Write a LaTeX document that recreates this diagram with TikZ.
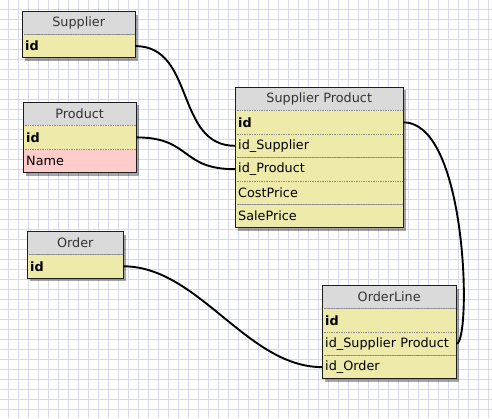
\documentclass[tikz,border=0pt]{standalone}
\usepackage{fontspec}
\setmainfont{DejaVu Sans}
\newfontfamily\tabfam{DejaVu Sans}
\definecolor{gridc}{RGB}{216,216,236}
\definecolor{hdrc}{RGB}{218,218,218}
\definecolor{fldc}{RGB}{238,234,170}
\definecolor{pinkc}{RGB}{255,204,204}
\definecolor{borderc}{RGB}{30,30,30}
\pgfdeclarelayer{gridlayer}
\pgfdeclarelayer{shadowlayer}
\pgfsetlayers{gridlayer,shadowlayer,main}
\newcommand{\tabfont}{\tabfam\fontsize{12.8}{15}\selectfont}
\tikzset{
  cell/.style={minimum height=23pt, inner xsep=3pt, inner ysep=0pt, anchor=north west, font=\tabfont},
  hdr/.style={cell, fill=hdrc, align=center, text=black!80},
  fld/.style={cell, fill=fldc, align=left, text=black},
  pk/.style={fld, font=\tabfont\bfseries},
  pinkfld/.style={cell, fill=pinkc, align=left, text=black},
  sep/.style={draw=black!45, densely dotted, line width=0.7pt},
  frame/.style={draw=borderc, line width=1pt},
  shade/.style={fill=black, opacity=0.35},
  conn/.style={draw=black, line width=1.9pt},
  gridline/.style={draw=gridc, line width=0.9pt}
}
\begin{document}
\begin{tikzpicture}[x=1pt,y=-1pt]
\useasboundingbox (0,0) rectangle (492,418);
\begin{pgfonlayer}{gridlayer}
  \fill[white] (0,0) rectangle (492,418);
  \foreach \gx in {8,18,...,488} \draw[gridline] (\gx,0) -- (\gx,418);
  \foreach \gy in {9,19,...,409} \draw[gridline] (0,\gy) -- (492,\gy);
\end{pgfonlayer}

% Supplier
\node[hdr, text width=107pt, minimum height=22.5pt] (sup) at (22,11.5) {Supplier};
\node[pk, text width=107pt] (supid) at (sup.south west) {id};
% Product
\node[hdr, text width=107pt] (prod) at (23,102.3) {Product};
\node[pk, text width=107pt] (prodid) at (prod.south west) {id};
\node[pinkfld, text width=107pt] (prodname) at (prodid.south west) {Name};
% Supplier Product
\node[hdr, text width=162pt] (sp) at (235,87.3) {Supplier Product};
\node[pk, text width=162pt] (spid) at (sp.south west) {id};
\node[fld, text width=162pt] (spsup) at (spid.south west) {id\_Supplier};
\node[fld, text width=162pt] (spprod) at (spsup.south west) {id\_Product};
\node[fld, text width=162pt] (spcost) at (spprod.south west) {CostPrice};
\node[fld, text width=162pt] (spsale) at (spcost.south west) {SalePrice};
% Order
\node[hdr, text width=90pt, minimum height=22.5pt] (ord) at (27,231.7) {Order};
\node[pk, text width=90pt] (ordid) at (ord.south west) {id};
% OrderLine
\node[hdr, text width=128pt, minimum height=22.5pt] (ol) at (322,285.7) {OrderLine};
\node[pk, text width=128pt] (olid) at (ol.south west) {id};
\node[fld, text width=128pt] (olsp) at (olid.south west) {id\_Supplier Product};
\node[fld, text width=128pt] (olord) at (olsp.south west) {id\_Order};

% separators
\draw[sep] (sup.south west) -- (sup.south east);
\draw[sep] (prod.south west) -- (prod.south east);
\draw[sep] (prodid.south west) -- (prodid.south east);
\draw[sep] (sp.south west) -- (sp.south east);
\draw[sep] (spid.south west) -- (spid.south east);
\draw[sep] (spsup.south west) -- (spsup.south east);
\draw[sep] (spprod.south west) -- (spprod.south east);
\draw[sep] (spcost.south west) -- (spcost.south east);
\draw[sep] (ord.south west) -- (ord.south east);
\draw[sep] (ol.south west) -- (ol.south east);
\draw[sep] (olid.south west) -- (olid.south east);
\draw[sep] (olsp.south west) -- (olsp.south east);

% frames and shadows
\foreach \ta/\tb in {sup/supid, prod/prodname, sp/spsale, ord/ordid, ol/olord}{
  \begin{pgfonlayer}{shadowlayer}
    \fill[shade] ([shift={(3,3)}]\ta.north west) rectangle ([shift={(3,3)}]\tb.south east);
  \end{pgfonlayer}
  \draw[frame] (\ta.north west) rectangle (\tb.south east);
}

% connectors
\draw[conn] (supid.east) .. controls +(60,0) and +(-60,0) .. (spsup.west);
\draw[conn] (prodid.east) .. controls +(55,0) and +(-55,0) .. (spprod.west);
\draw[conn] (ordid.east) .. controls +(75,0) and +(-75,0) .. (olord.west);
\draw[conn] (spid.east) .. controls +(65,0) and +(15,0) .. (olsp.east);
\end{tikzpicture}
\end{document}
